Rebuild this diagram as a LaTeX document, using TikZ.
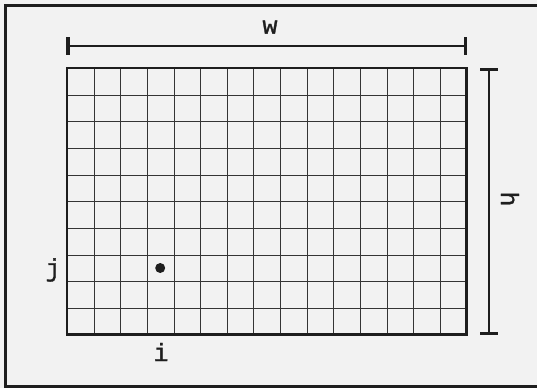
\documentclass[tikz,border=0pt]{standalone}
\usepackage{fontspec}
\newfontfamily\labelfont[FakeBold=1.2]{Liberation Mono}
\definecolor{bg}{HTML}{F2F2F2}
\definecolor{ink}{HTML}{1E1E1E}
\begin{document}
\begin{tikzpicture}[x=1pt,y=-1pt,
  frame/.style={draw=ink,line width=2.6pt},
  gridline/.style={draw=ink!90,line width=1.4pt},
  gridborder/.style={draw=ink,line width=2.6pt},
  dimline/.style={draw=ink,line width=2.2pt},
  dimtick/.style={draw=ink,line width=3.2pt},
  lbl/.style={font=\labelfont\fontsize{25}{25}\selectfont,text=ink,inner sep=0pt}]
\useasboundingbox (0,0) rectangle (537,388);
\fill[bg] (0,0) rectangle (537,388);
\begin{scope}
\clip (0,0) rectangle (537,388);
\draw[frame] (5.5,5.5) rectangle (560,386.5);
\end{scope}
% grid
\foreach \i in {1,...,14} \draw[gridline] ({round(67+\i*26.63)+0.5},68) -- ({round(67+\i*26.63)+0.5},334.7);
\foreach \j in {1,...,9} \draw[gridline] (67,{round(68+\j*26.67)+0.5}) -- (466.5,{round(68+\j*26.67)+0.5});
\draw[gridborder] (67,68) rectangle (466.5,334.7);
% point
\fill[ink] (160.2,268) circle (5);
% width dimension
\coordinate (wl) at (68,45.7);
\coordinate (wr) at (465.3,45.7);
\draw[dimline] (wl) -- (wr);
\draw[dimtick] ([yshift=-9]wl) -- ([yshift=9]wl);
\draw[dimtick] ([yshift=-9]wr) -- ([yshift=9]wr);
% height dimension
\coordinate (ht) at (489,69.3);
\coordinate (hb) at (489,333.3);
\draw[dimline] (ht) -- (hb);
\draw[dimtick] ([xshift=-9]ht) -- ([xshift=9]ht);
\draw[dimtick] ([xshift=-9]hb) -- ([xshift=9]hb);
% labels
\node[lbl] (w) at (270,27) {w};
\node[lbl,rotate=-90] (h) at (510,199) {h};
\node[lbl] (j) at (53,270) {j};
\node[lbl] (i) at (161,352) {i};
\end{tikzpicture}
\end{document}
